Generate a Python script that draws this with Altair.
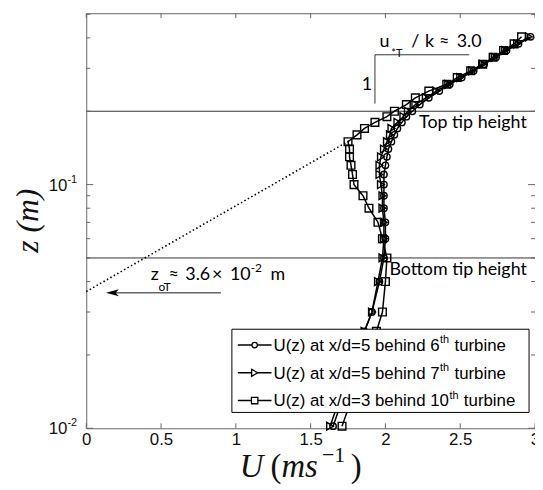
import altair as alt
import pandas as pd

# ---------------- data ----------------
z_levels = [0.0102, 0.0125, 0.015, 0.0175, 0.02, 0.025, 0.03, 0.04, 0.05, 0.06,
            0.07, 0.08, 0.09, 0.10, 0.11, 0.12, 0.13, 0.14, 0.15, 0.16, 0.17,
            0.18, 0.19, 0.20, 0.213, 0.227, 0.242, 0.258, 0.275, 0.293, 0.312,
            0.333, 0.355, 0.378, 0.404]
u_6th = [1.65, 1.70, 1.74, 1.78, 1.81, 1.86, 1.91, 1.96, 1.99, 2.00,
         2.00, 1.99, 1.99, 1.99, 1.99, 2.00, 2.01, 2.02, 2.04, 2.06, 2.08,
         2.11, 2.14, 2.18, 2.23, 2.29, 2.36, 2.43, 2.51, 2.59, 2.66,
         2.74, 2.81, 2.89, 2.97]
u_7th = [1.63, 1.68, 1.73, 1.77, 1.80, 1.86, 1.91, 1.95, 1.98, 1.99,
         1.99, 1.98, 1.98, 1.97, 1.96, 1.96, 1.97, 1.99, 2.01, 2.03, 2.04,
         2.08, 2.12, 2.15, 2.20, 2.27, 2.34, 2.42, 2.50, 2.58, 2.65,
         2.73, 2.80, 2.88, 2.96]
u_10th = [1.71, 1.76, 1.81, 1.85, 1.88, 1.94, 1.98, 2.00, 2.01, 1.98,
          1.95, 1.89, 1.85, 1.79, 1.78, 1.77, 1.76, 1.76, 1.75, 1.81, 1.86,
          1.93, 2.01, 2.06, 2.14, 2.20, 2.29, 2.41, 2.48, 2.57, 2.65,
          2.72, 2.79, 2.86, 2.91]
series_names = ["6th", "7th", "10th"]

x_ticks = [0, 0.5, 1, 1.5, 2, 2.5, 3]
y_major = [0.01, 0.1]
y_exponents = ["-2", "-1"]
y_minor = [0.02, 0.03, 0.04, 0.05, 0.06, 0.07, 0.08, 0.09, 0.2, 0.3, 0.4, 0.5]
tip_heights = [0.2, 0.05]
loglaw_u = [0.0, 1.755]
loglaw_z = [0.0364, 0.151]
z0T = 0.036
arrow_u = [0.9, 0.16]
arrow_head_u = 0.175
slope_u = [1.93, 2.56]
slope_z = [0.341, 0.215]

# ---------------- layout ----------------
W, H = 453, 419
xs = alt.Scale(domain=[0, 3], nice=False, zero=False)
ys = alt.Scale(type="log", domain=[0.01, 0.505], nice=False)
xaxis = alt.Axis(labelFont="Liberation Sans", labelFontSize=17, labelColor="#111",
                 ticks=False, tickSize=0, domain=False, grid=False, labelPadding=3,
                 labelFlush=False, values=x_ticks, format="~g", title=None)
yaxis = alt.Axis(labels=False, ticks=False, domain=False, grid=False,
                 title="z  (m)", titleFont="Liberation Serif", titleFontStyle="italic",
                 titleFontWeight="normal", titleFontSize=32, titleColor="#111",
                 titleX=-59, titleY=209, titleAngle=-90, titleAlign="center",
                 titleBaseline="middle")


def X(f):
    return alt.X(f, type="quantitative", scale=xs, axis=xaxis)


def Y(f):
    return alt.Y(f, type="quantitative", scale=ys, axis=yaxis)


one = pd.DataFrame({"a": [0]})


def label(txt, x, y, size=18, font="Lato", style=None, align="left",
          baseline="alphabetic", color="black"):
    kw = dict(text=txt, font=font, fontSize=size, align=align,
              baseline=baseline, color=color)
    if style:
        kw["fontStyle"] = style
    return alt.Chart(one).mark_text(**kw).encode(x=alt.value(x), y=alt.value(y))


layers = []

# tip-height lines
layers.append(alt.Chart(pd.DataFrame({"z": tip_heights}))
              .mark_rule(color="#333", strokeWidth=1).encode(y=Y("z")))

# log-law fit (dotted)
layers.append(alt.Chart(pd.DataFrame({"U": loglaw_u, "z": loglaw_z}))
              .mark_line(color="black", strokeWidth=1.6, strokeDash=[1.5, 2.5])
              .encode(x=X("U"), y=Y("z")))

# profiles
rows = []
for name, us in zip(series_names, [u_6th, u_7th, u_10th]):
    for i, (zz, uu) in enumerate(zip(z_levels, us)):
        rows.append({"series": name, "idx": i, "z": zz, "U": uu})
prof = pd.DataFrame(rows)

layers.append(alt.Chart(prof).mark_line(color="black", strokeWidth=1.5)
              .encode(x=X("U"), y=Y("z"), detail="series:N", order="idx:Q"))
shapes = {"6th": ("circle", 42), "7th": ("triangle-right", 62), "10th": ("square", 60)}
for name in series_names:
    shp, sz = shapes[name]
    layers.append(alt.Chart(prof[prof.series == name])
                  .mark_point(shape=shp, size=sz, filled=False, color="black",
                              strokeWidth=1.4, opacity=1)
                  .encode(x=X("U"), y=Y("z")))

# arrow for z0T
layers.append(alt.Chart(pd.DataFrame({"U": [arrow_u[0]], "U2": [arrow_u[1]], "z": [z0T]}))
              .mark_rule(color="#666", strokeWidth=1.5)
              .encode(x=X("U"), x2="U2", y=Y("z")))
layers.append(alt.Chart(pd.DataFrame({"U": [arrow_head_u], "z": [z0T]}))
              .mark_point(shape="M-1,0L1,-0.55L0.5,0L1,0.55Z", size=170, filled=True,
                          color="black", opacity=1)
              .encode(x=X("U"), y=Y("z")))

# slope triangle
layers.append(alt.Chart(pd.DataFrame({"U": [slope_u[0]], "U2": [slope_u[1]], "z": [slope_z[0]]}))
              .mark_rule(color="#333", strokeWidth=1)
              .encode(x=X("U"), x2="U2", y=Y("z")))
layers.append(alt.Chart(pd.DataFrame({"U": [slope_u[0]], "z": [slope_z[0]], "z2": [slope_z[1]]}))
              .mark_rule(color="#333", strokeWidth=1)
              .encode(x=X("U"), y=Y("z"), y2="z2"))

# annotations
layers += [
    label("Top tip height", 336, 116),
    label("Bottom tip height", 306, 264),
    label("1", 278, 78),
    label("u", 296, 34),
    label("*T", 308, 44, size=11),
    label("/", 328, 34),
    label("k", 342, 34),
    label("\u2248", 356, 34),
    label("3.0", 374, 34),
    label("z", 65, 269),
    label("oT", 73, 280, size=12),
    label("\u2248", 83, 269),
    label("3.6", 100, 269),
    label("\u00d7", 127, 269),
    label("10", 145, 269),
    label("-2", 166, 261, size=12),
    label("m", 186, 269),
]

# legend (drawn by hand, box over the lines)
layers.append(alt.Chart(one).mark_rect(fill="white", stroke="black", strokeWidth=1)
              .encode(x=alt.value(147), x2=alt.value(447), y=alt.value(319), y2=alt.value(403)))
leg_rows = [(335, "circle", 30, "U(z) at x/d=5 behind 6", 167.7),
            (363, "triangle-right", 50, "U(z) at x/d=5 behind 7", 167.7),
            (391, "square", 42, "U(z) at x/d=3 behind 10", 177.2)]
for ry, shp, sz, txt, w in leg_rows:
    layers.append(alt.Chart(one).mark_rule(color="black", strokeWidth=1.5)
                  .encode(x=alt.value(153), x2=alt.value(187), y=alt.value(ry)))
    layers.append(alt.Chart(one).mark_point(shape=shp, size=sz, filled=True, fill="white",
                                            stroke="black", strokeWidth=1.3, opacity=1)
                  .encode(x=alt.value(170), y=alt.value(ry)))
    layers.append(label(txt, 189, ry + 6, size=17, font="Liberation Sans"))
    layers.append(label("th", 189 + w + 0.5, ry - 2, size=11, font="Liberation Sans"))
    layers.append(label("turbine", 189 + w + 15, ry + 6, size=17, font="Liberation Sans"))

# inner ticks (MATLAB box style)
xt = pd.DataFrame({"U": x_ticks})
layers.append(alt.Chart(xt).mark_rule(color="#666").encode(x=X("U"), y=alt.value(H), y2=alt.value(H - 5)))
layers.append(alt.Chart(xt).mark_rule(color="#666").encode(x=X("U"), y=alt.value(0), y2=alt.value(5)))
ymaj = pd.DataFrame({"z": y_major, "e": y_exponents})
ymin = pd.DataFrame({"z": y_minor})
for df, ln in [(ymaj, 7), (ymin, 4)]:
    layers.append(alt.Chart(df).mark_rule(color="#666").encode(y=Y("z"), x=alt.value(0), x2=alt.value(ln)))
    layers.append(alt.Chart(df).mark_rule(color="#666").encode(y=Y("z"), x=alt.value(W), x2=alt.value(W - ln)))

# y tick labels 10^-1, 10^-2
layers.append(alt.Chart(ymaj).mark_text(text="10", font="Liberation Sans", fontSize=17,
                                        align="right", baseline="middle", dy=1, color="#111")
              .encode(y=Y("z"), x=alt.value(-19)))
layers.append(alt.Chart(ymaj).mark_text(font="Liberation Sans", fontSize=11,
                                        align="left", baseline="middle", dy=-5, color="#111")
              .encode(y=Y("z"), x=alt.value(-19), text="e:N"))

# x-axis title  U (ms^-1)
TB = 468
layers += [
    label("U", 155, TB, size=33, font="Liberation Serif", style="italic", color="#111"),
    label("(", 186, TB, size=33, font="Liberation Serif", color="#111"),
    label("ms", 197, TB, size=33, font="Liberation Serif", style="italic", color="#111"),
    label("\u22121", 238, TB - 15, size=22, font="Liberation Serif", color="#111"),
    label(")", 267, TB, size=33, font="Liberation Serif", color="#111"),
]

chart = alt.layer(*layers).properties(
    width=W, height=H,
    autosize=alt.AutoSizeParams(type="none"),
    padding={"left": 79, "top": 3, "right": 0, "bottom": 56},
    background="white",
).configure_view(stroke="#666", strokeWidth=1)

chart.save("out.html", embed_options={"renderer": "svg", "actions": False})
